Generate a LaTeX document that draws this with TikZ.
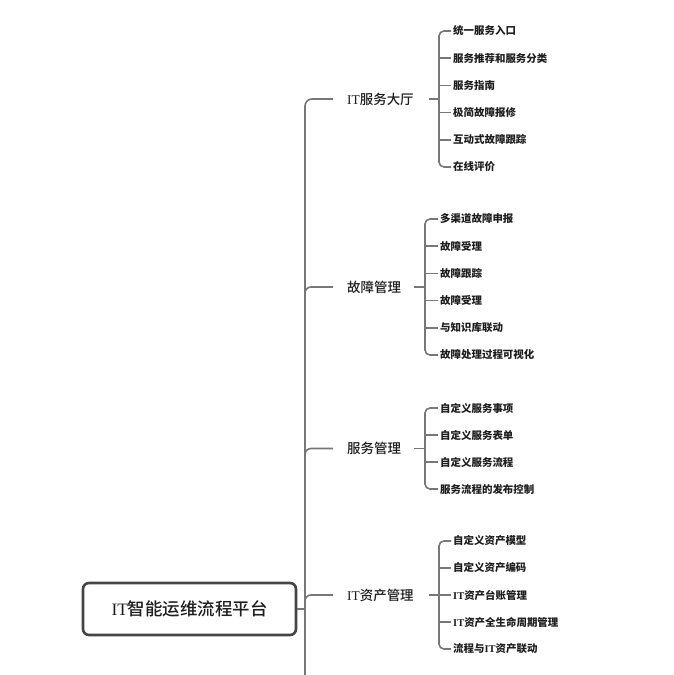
\documentclass[tikz,border=0pt]{standalone}
\usepackage{fontspec}
\newfontfamily\cjk{Noto Sans CJK SC}
\newfontfamily\cjkm{Noto Sans CJK SC}[UprightFont={* Medium}]
\newfontfamily\lat{Liberation Serif}
\usetikzlibrary{calc}
\newcommand\itx{{\lat IT}}
\definecolor{linec}{HTML}{777777}
\definecolor{txt}{HTML}{1E1E1E}
\definecolor{boxc}{HTML}{444444}
\tikzset{
  conn/.style={draw=linec, line width=1.6bp},
  l1/.style={anchor=west, inner sep=0pt, text=txt, font=\fontsize{13.5}{14}\selectfont\cjkm},
  l2/.style={anchor=west, inner sep=0pt, text=txt, font=\fontsize{10.5}{11}\selectfont\cjk\bfseries},
  rootbox/.style={draw=boxc, line width=2.6bp, rounded corners=6bp, fill=white, text=txt,
    minimum width=213bp, minimum height=52bp, inner sep=0pt, font=\fontsize{17.5}{18}\selectfont\cjkm},
}
\begin{document}
\begin{tikzpicture}[x=1bp,y=-1bp]
\useasboundingbox[fill=white] (0,0) rectangle (674,675);
% root
\node[rootbox] (root) at (189.5,609) {\itx 智能运维流程平台};
% level 1
\node[l1] (a) at (347,99) {\itx 服务大厅};
\node[l1] (b) at (347,287) {故障管理};
\node[l1] (c) at (347,448.5) {服务管理};
\node[l1] (d) at (347,595) {\itx 资产管理};
% trunk
\coordinate (trunkbot) at (305,675);
\coordinate (jb) at (305,294);
\coordinate (jc) at (305,455.5);
\coordinate (jd) at (305,602);
\coordinate (jr) at (305,609);
\draw[conn, rounded corners=7bp] (trunkbot) |- ($(a.west)+(-14,0)$);
\draw[conn, rounded corners=6bp] (jb) |- ($(b.west)+(-14,0)$);
\draw[conn, rounded corners=6bp] (jc) |- ($(c.west)+(-14,0)$);
\draw[conn, rounded corners=6bp] (jd) |- ($(d.west)+(-14,0)$);
\draw[conn] (root.east) -- (jr);
% group 1
\coordinate (br1) at (439,99);
\foreach \t [count=\i] in {统一服务入口,服务推荐和服务分类,服务指南,极简故障报修,互动式故障跟踪,在线评价}
  \node[l2] (g1c\i) at (453,{31+27.2*(\i-1)}) {\t};
\draw[conn] ($(a.east)+(15,0)$) -- (br1);
\draw[conn, rounded corners=5bp] ($(g1c1.west)+(-2,0)$) -| (br1) |- ($(g1c6.west)+(-2,0)$);
\foreach \i in {2,...,5} \draw[conn] (br1 |- g1c\i.west) -- ($(g1c\i.west)+(-2,0)$);
% group 2
\coordinate (br2) at (425,287);
\foreach \t [count=\i] in {多渠道故障申报,故障受理,故障跟踪,故障受理,与知识库联动,故障处理过程可视化}
  \node[l2] (g2c\i) at (440,{219+27.2*(\i-1)}) {\t};
\draw[conn] ($(b.east)+(13,0)$) -- (br2);
\draw[conn, rounded corners=5bp] ($(g2c1.west)+(-2,0)$) -| (br2) |- ($(g2c6.west)+(-2,0)$);
\foreach \i in {2,...,5} \draw[conn] (br2 |- g2c\i.west) -- ($(g2c\i.west)+(-2,0)$);
% group 3
\coordinate (br3) at (425,448.5);
\foreach \t [count=\i] in {自定义服务事项,自定义服务表单,自定义服务流程,服务流程的发布控制}
  \node[l2] (g3c\i) at (440,{408+27*(\i-1)}) {\t};
\draw[conn] ($(c.east)+(13,0)$) -- (br3);
\draw[conn, rounded corners=5bp] ($(g3c1.west)+(-2,0)$) -| (br3) |- ($(g3c4.west)+(-2,0)$);
\foreach \i in {2,3} \draw[conn] (br3 |- g3c\i.west) -- ($(g3c\i.west)+(-2,0)$);
% group 4
\coordinate (br4) at (439,595);
\foreach \t [count=\i] in {自定义资产模型,自定义资产编码,\itx 资产台账管理,\itx 资产全生命周期管理,流程与\itx 资产联动}
  \node[l2] (g4c\i) at (453,{541+27*(\i-1)}) {\t};
\draw[conn] ($(d.east)+(15,0)$) -- (br4);
\draw[conn, rounded corners=5bp] ($(g4c1.west)+(-2,0)$) -| (br4) |- ($(g4c5.west)+(-2,0)$);
\foreach \i in {2,...,4} \draw[conn] (br4 |- g4c\i.west) -- ($(g4c\i.west)+(-2,0)$);
\end{tikzpicture}
\end{document}
